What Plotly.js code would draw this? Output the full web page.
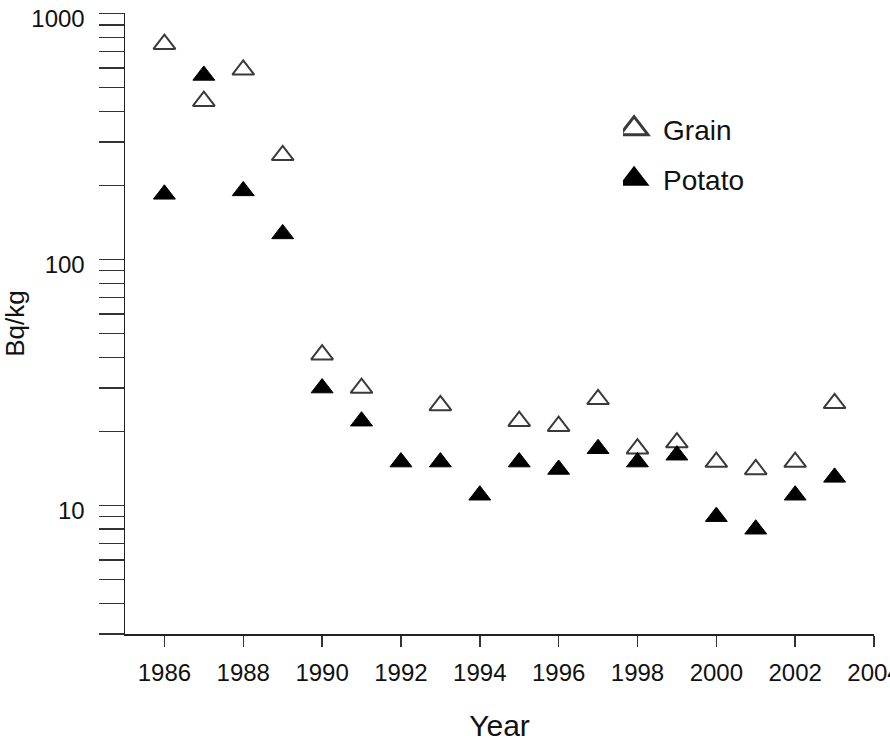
<!DOCTYPE html>
<html>
<head>
<meta charset="utf-8">
<script src="https://cdn.plot.ly/plotly-3.0.1.min.js"></script>
<style>html,body{margin:0;padding:0;background:#fff;}#chart{width:890px;height:742px;}</style>
</head>
<body>
<div id="chart"></div>
<script>
// Data (Bq/kg, log scale)
const grainYears = [1986, 1987, 1988, 1989, 1990, 1991, 1993, 1995, 1996, 1997, 1998, 1999, 2000, 2001, 2002, 2003];
const grainValues = [750, 440, 590, 265, 41, 30, 25.5, 22, 21, 27, 17, 18, 15, 14, 15, 26];
const potatoYears = [1986, 1987, 1988, 1989, 1990, 1991, 1992, 1993, 1994, 1995, 1996, 1997, 1998, 1999, 2000, 2001, 2002, 2003];
const potatoValues = [184, 560, 190, 127, 30, 22, 15, 15, 11, 15, 14, 17, 15, 16, 9, 8, 11, 13];
const xTickVals = [1986, 1988, 1990, 1992, 1994, 1996, 1998, 2000, 2002, 2004];
const yTickVals = [3, 4, 5, 6, 7, 8, 9, 10, 20, 30, 40, 50, 60, 70, 80, 90, 100, 200, 300, 400, 500, 600, 700, 800, 900, 1000];
const yTickText = yTickVals.map(v => (v === 10 || v === 100 || v === 1000) ? String(v) : '');

const font = 'Liberation Sans, Arial, Helvetica, sans-serif';

const traces = [
  {
    x: grainYears, y: grainValues, name: 'Grain', type: 'scatter', mode: 'markers',
    legendgroup: 'g',
    marker: {symbol: 'triangle-up', size: 19, color: '#ffffff', line: {color: '#3a3a3a', width: 2}}
  },
  {
    x: potatoYears, y: potatoValues, name: 'Potato', type: 'scatter', mode: 'markers',
    legendgroup: 'p',
    marker: {symbol: 'triangle-up', size: 19, color: '#000000', line: {color: '#000000', width: 1}}
  }
];

const layout = {
  width: 890, height: 742,
  margin: {l: 125, r: 16, t: 13, b: 108},
  paper_bgcolor: '#ffffff', plot_bgcolor: '#ffffff',
  font: {family: font, color: '#111', size: 24},
  showlegend: true,
  legend: {x: 0.665, y: 0.8535, xanchor: 'left', yanchor: 'top', font: {size: 28, family: font, color: '#111'},
           bgcolor: 'rgba(0,0,0,0)', tracegroupgap: 11},
  xaxis: {
    range: [1985, 2004], tickvals: xTickVals, ticks: 'outside', ticklen: 11, tickwidth: 1.5, tickcolor: '#333',
    showgrid: false, zeroline: false, showline: true, linecolor: '#222', linewidth: 1.5,
    ticklabelstandoff: 6, ticklabeloverflow: 'allow',
    tickfont: {size: 24, family: font, color: '#111'},
    title: {text: 'Year', font: {size: 30, family: font, color: '#111'}, standoff: 30}
  },
  yaxis: {
    type: 'log', range: [Math.log10(3), 3.002], tickvals: yTickVals, ticktext: yTickText,
    ticks: 'outside', ticklen: 25, tickwidth: 1.5, tickcolor: '#333',
    showgrid: false, zeroline: false, showline: true, linecolor: '#222', linewidth: 1.5,
    ticklabelstandoff: 9, ticklabelshift: 5,
    tickfont: {size: 24, family: font, color: '#111'},
    title: {text: 'Bq/kg', font: {size: 26, family: font, color: '#111'}, standoff: 3}
  }
};

Plotly.newPlot('chart', traces, layout, {displayModeBar: false, staticPlot: true}).then(function (gd) {
  // enlarge the legend symbols to match the reference's legend
  gd.querySelectorAll('.legend .legendpoints path').forEach(function (p) {
    p.setAttribute('transform', 'translate(11,0) scale(1.5)');
  });
});
</script>
</body>
</html>
